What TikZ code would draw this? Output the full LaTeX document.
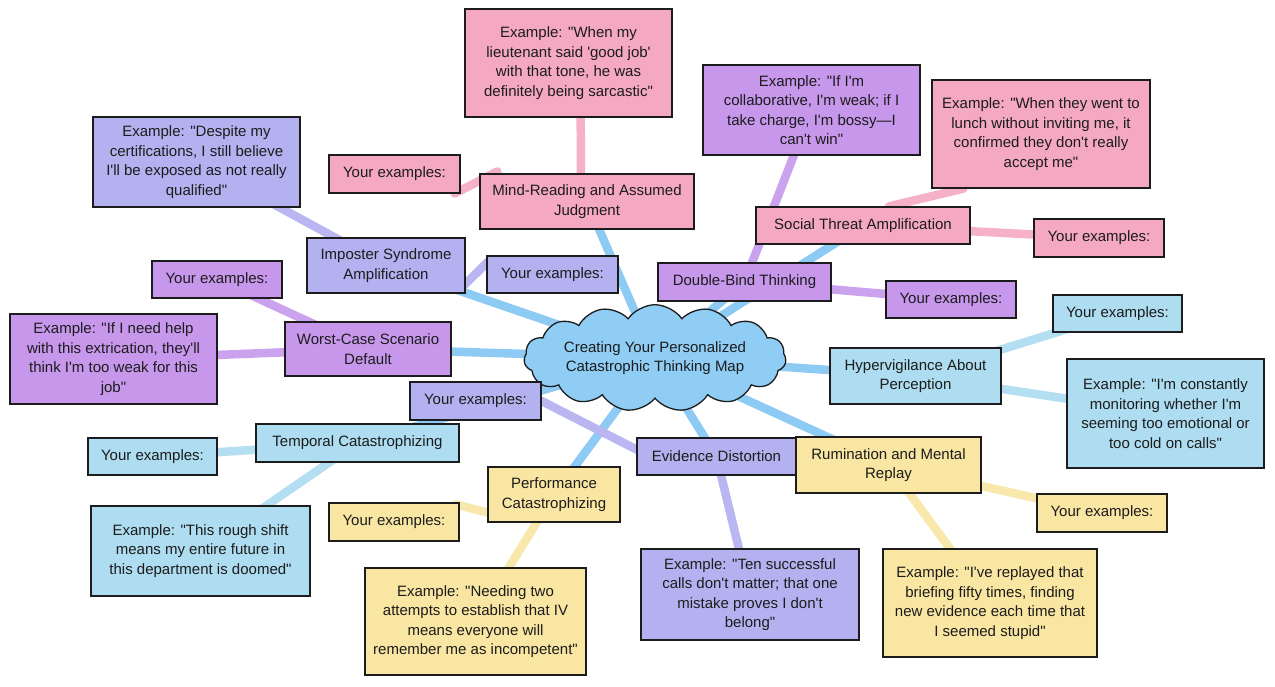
\documentclass[tikz,border=0pt]{standalone}
\usepackage{fontspec}
\newfontfamily\mapfont{Liberation Sans}
\usetikzlibrary{shapes.symbols,backgrounds,calc}
\definecolor{pinkf}{HTML}{F4A8C1}
\definecolor{pinkl}{HTML}{F5B1C8}
\definecolor{lavf}{HTML}{B4B1F0}
\definecolor{lavl}{HTML}{B9B6F2}
\definecolor{purf}{HTML}{C797EC}
\definecolor{purl}{HTML}{CBA2EE}
\definecolor{bluf}{HTML}{AEDCF0}
\definecolor{blul}{HTML}{B4DEF1}
\definecolor{yelf}{HTML}{F8E6A2}
\definecolor{yell}{HTML}{F8E8AC}
\definecolor{cloudf}{HTML}{8FCDF5}
\definecolor{cloudl}{HTML}{8ECBF4}
\definecolor{inkc}{HTML}{1C1C1C}
\begin{document}
\begin{tikzpicture}[x=1pt,y=-1pt,
  box/.style={draw=inkc, line width=1.2pt, align=center, inner sep=0pt, text=inkc,
    font=\mapfont\fontsize{15}{19.5}\selectfont},
  sz/.style 2 args={minimum width=#1pt, minimum height=#2pt},
  pinkbox/.style={box, fill=pinkf},
  lavbox/.style={box, fill=lavf},
  purbox/.style={box, fill=purf},
  blubox/.style={box, fill=bluf},
  yelbox/.style={box, fill=yelf},
  link/.style={line width=8.5pt, line cap=round},
  centerlink/.style={link, draw=cloudl},
  pinklink/.style={link, draw=pinkl},
  lavlink/.style={link, draw=lavl},
  purlink/.style={link, draw=purl},
  blulink/.style={link, draw=blul},
  yellink/.style={link, draw=yell}]
\useasboundingbox (0,0) rectangle (1275,687);

% central cloud
\node[cloud, cloud puffs=15, cloud puff arc=110, aspect=3.2, draw=inkc, line width=1.3pt,
  fill=cloudf, minimum width=262pt, minimum height=78pt, inner sep=0pt, align=center, text=inkc,
  font=\mapfont\fontsize{15}{19.5}\selectfont] (c) at (655,358)
  {Creating Your Personalized\\Catastrophic Thinking Map};

% Mind-reading (pink)
\node[pinkbox, sz={207}{108}] (mrex) at (568.5,63) {Example: "When my\\lieutenant said 'good job'\\with that tone, he was\\definitely being sarcastic"};
\node[pinkbox, sz={131}{38}] (mrye) at (394.5,174) {Your examples:};
\node[pinkbox, sz={214}{55}] (mr) at (587,201.5) {Mind-Reading and Assumed\\Judgment};

% Imposter (lavender)
\node[lavbox, sz={207}{90}] (impex) at (196.5,162) {Example: "Despite my\\certifications, I still believe\\I'll be exposed as not really\\qualified"};
\node[lavbox, sz={158}{55}] (imp) at (386,265.5) {Imposter Syndrome\\Amplification};
\node[lavbox, sz={131}{37}] (impye) at (552.5,274.5) {Your examples:};

% Worst-case (purple)
\node[purbox, sz={130}{37}] (wcye) at (217,279.5) {Your examples:};
\node[purbox, sz={207}{90}] (wcex) at (113.5,359) {Example: "If I need help\\with this extrication, they'll\\think I'm too weak for this\\job"};
\node[purbox, sz={166}{54}] (wc) at (368,349) {Worst-Case Scenario\\Default};

% Double-bind (purple)
\node[purbox, sz={217}{90}] (dbex) at (811.5,110) {Example: "If I'm\\collaborative, I'm weak; if I\\take charge, I'm bossy—I\\can't win"};

% Social threat (pink)
\node[pinkbox, sz={218}{108}] (socex) at (1041,134) {Example: "When they went to\\lunch without inviting me, it\\confirmed they don't really\\accept me"};
\node[pinkbox, sz={214}{37}] (soc) at (863,225.5) {Social Threat Amplification};
\node[pinkbox, sz={130}{38}] (socye) at (1099,238) {Your examples:};

\node[purbox, sz={173}{38}] (db) at (744.5,282) {Double-Bind Thinking};
\node[purbox, sz={130}{37}] (dbye) at (951,299.5) {Your examples:};

% Hypervigilance (blue)
\node[blubox, sz={129}{37}] (hyye) at (1117.5,313.5) {Your examples:};
\node[blubox, sz={171}{56}] (hy) at (915.5,376) {Hypervigilance About\\Perception};
\node[blubox, sz={197}{109}] (hyex) at (1165.5,413.5) {Example: "I'm constantly\\monitoring whether I'm\\seeming too emotional or\\too cold on calls"};

% Evidence (lavender)
\node[lavbox, sz={131}{38}] (evye) at (475.5,401) {Your examples:};

% Temporal (blue)
\node[blubox, sz={203}{38}] (tc) at (357.5,443) {Temporal Catastrophizing};
\node[blubox, sz={129}{37}] (tcye) at (152.5,456.5) {Your examples:};
\node[blubox, sz={219}{90}] (tcex) at (200.5,551) {Example: "This rough shift\\means my entire future in\\this department is doomed"};

% Performance (yellow)
\node[yelbox, sz={132}{55}] (pc) at (554,494.5) {Performance\\Catastrophizing};
\node[yelbox, sz={130}{38}] (pcye) at (394,522) {Your examples:};
\node[yelbox, sz={221}{107}] (pcex) at (475.5,621.5) {Example: "Needing two\\attempts to establish that IV\\means everyone will\\remember me as incompetent"};

% Evidence & Rumination
\node[lavbox, sz={159}{37}] (ev) at (716.5,456.5) {Evidence Distortion};
\node[yelbox, sz={185}{56}] (rum) at (888.5,465) {Rumination and Mental\\Replay};
\node[yelbox, sz={130}{38}] (rumye) at (1102,513) {Your examples:};
\node[lavbox, sz={218}{91}] (evex) at (750,594.5) {Example: "Ten successful\\calls don't matter; that one\\mistake proves I don't\\belong"};
\node[yelbox, sz={214}{108}] (rumex) at (990,603) {Example: "I've replayed that\\briefing fifty times, finding\\new evidence each time that\\I seemed stupid"};

\begin{scope}[on background layer]
  \fill[white] (0,0) rectangle (1275,687);
  % main branches
  \draw[centerlink] (c.center) -- (mr.center);
  \draw[centerlink] (c.center) -- (imp.center);
  \draw[centerlink] (c.center) -- (wc.center);
  \draw[centerlink] (c.center) -- (tc.center);
  \draw[centerlink] (c.center) -- (pc.center);
  \draw[centerlink] (c.center) -- (ev.center);
  \draw[centerlink] (c.center) -- (rum.center);
  \draw[centerlink] (c.center) -- (hy.center);
  \draw[centerlink] (c.center) -- (db.center);
  \draw[centerlink] (c.center) -- (soc.center);
  % sub branches
  \draw[pinklink] ($(mr.center)+(-6,0)$) -- ($(mrex.center)+(12,0)$);
  \draw[pinklink] ($(mrye.south east)+(-6,0)$) -- ($(mr.north west)+(18,-2)$);
  \draw[pinklink] ($(soc.north)+(26,0)$) -- ($(socex.south west)+(32,0)$);
  \draw[pinklink] (soc.center) -- (socye.center);
  \draw[lavlink] (imp.center) -- (impex.center);
  \draw[lavlink] ($(imp.south east)+(-4,-6)$) -- ($(impye.north west)+(4,4)$);
  \draw[lavlink] (evye.east) -- ($(ev.west)+(4,-5)$);
  \draw[lavlink] (ev.center) -- (evex.center);
  \draw[purlink] (wc.center) -- (wcye.center);
  \draw[purlink] (wc.center) -- (wcex.center);
  \draw[purlink] (db.center) -- (dbex.center);
  \draw[purlink] (db.center) -- (dbye.center);
  \draw[blulink] (hy.center) -- (hyye.center);
  \draw[blulink] (hy.center) -- (hyex.center);
  \draw[blulink] (tc.center) -- (tcye.center);
  \draw[blulink] (tc.center) -- (tcex.center);
  \draw[yellink] ($(pcye.north east)+(-4,2)$) -- ($(pc.south west)+(4,-9)$);
  \draw[yellink] (pc.center) -- (pcex.center);
  \draw[yellink] (rum.center) -- (rumye.center);
  \draw[yellink] (rum.center) -- (rumex.center);
\end{scope}
\end{tikzpicture}
\end{document}
